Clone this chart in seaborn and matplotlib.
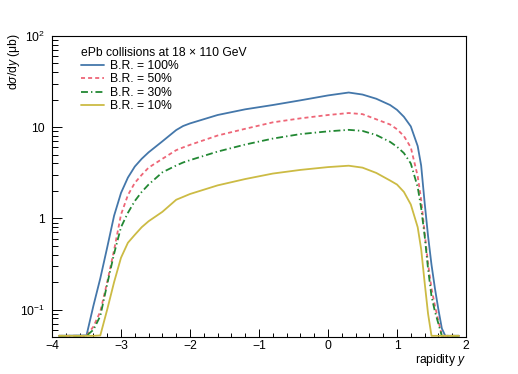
import numpy as np
import pandas as pd
import seaborn as sns
import matplotlib.pyplot as plt

# rapidity grid and dsigma/dy (mub), 0 = outside kinematic range
rapidity = [-3.9, -3.5, -3.4, -3.3, -3.2, -3.1, -3.0, -2.9, -2.8, -2.7, -2.6, -2.4, -2.2, -2.1, -2.0,
            -1.6, -1.2, -0.8, -0.4, 0.0, 0.3, 0.5, 0.7, 0.9, 1.0, 1.1, 1.2, 1.3, 1.35, 1.4,
            1.45, 1.5, 1.55, 1.6, 1.65, 1.7, 1.9]
br100 = [0, 0.052, 0.11, 0.22, 0.48, 1.07, 1.9, 2.8, 3.7, 4.5, 5.3, 7.0, 9.3, 10.3, 11.0,
         13.6, 15.7, 17.5, 19.7, 22.3, 24.0, 22.8, 20.5, 17.5, 15.5, 13.0, 10.2, 6.2, 3.8, 1.5,
         0.64, 0.31, 0.17, 0.10, 0.062, 0, 0]
br50 = [0, 0, 0.065, 0.095, 0.20, 0.45, 1.1, 1.8, 2.45, 3.0, 3.6, 4.5, 5.6, 6.0, 6.4,
        8.1, 9.6, 11.3, 12.5, 13.6, 14.3, 13.9, 12.2, 10.7, 9.5, 8.0, 6.0, 2.9, 1.6, 0.7,
        0.32, 0.17, 0.11, 0.075, 0.052, 0, 0]
br30 = [0, 0, 0.06, 0.085, 0.19, 0.41, 0.8, 1.15, 1.55, 1.95, 2.35, 3.2, 3.8, 4.1, 4.35,
        5.4, 6.45, 7.5, 8.4, 9.0, 9.35, 9.1, 8.2, 6.9, 6.1, 5.2, 4.0, 2.2, 1.3, 0.65,
        0.28, 0.14, 0.095, 0.07, 0.05, 0, 0]
br10 = [0, 0, 0, 0.052, 0.10, 0.20, 0.37, 0.54, 0.66, 0.8, 0.93, 1.18, 1.6, 1.72, 1.85,
        2.3, 2.7, 3.1, 3.4, 3.65, 3.78, 3.6, 3.15, 2.6, 2.35, 1.95, 1.42, 0.8, 0.46, 0.2,
        0.09, 0, 0, 0, 0, 0, 0]

labels = ["B.R. = 100%", "B.R. = 50%", "B.R. = 30%", "B.R. = 10%"]
colors = ["#4477AA", "#EE6677", "#228833", "#CCBB44"]
styles = ["-", (0, (2.9, 2.2)), (0, (5.0, 2.2, 1.0, 2.2)), "-"]

ytick_vals = [0.1, 1, 10, 100]
ytick_labels = ["$10^{-1}$", "1", "10", "$10^{2}$"]
xtick_vals = [-4, -3, -2, -1, 0, 1, 2]

ymin, ymax = 0.05, 100
fs = 8.7

sns.set_style("ticks")
plt.rcParams['font.family'] = ['Liberation Sans', 'DejaVu Sans']
plt.rcParams['mathtext.fontset'] = 'custom'
plt.rcParams['mathtext.rm'] = 'Liberation Sans'
plt.rcParams['mathtext.it'] = 'Liberation Sans:italic'
plt.rcParams['lines.scale_dashes'] = False
for k in ['text.color', 'axes.labelcolor', 'xtick.color', 'ytick.color']:
    plt.rcParams[k] = 'black'

fig = plt.figure(figsize=(5.18, 3.74), dpi=100)
ax = fig.add_axes([52 / 518, 1 - 337 / 374, 414 / 518, 301 / 374])

for vals, lab, col, ls in zip([br100, br50, br30, br10], labels, colors, styles):
    # ROOT draws points below the frame minimum on the bottom edge
    shown = np.clip(np.array(vals, dtype=float), ymin * 1.03, None)
    sns.lineplot(x=rapidity, y=shown, ax=ax, color=col, linestyle=ls, lw=1.3, label=lab)

ax.set_yscale('log')
ax.set_xlim(-4, 2)
ax.set_ylim(ymin, ymax)
ax.set_yticks(ytick_vals, labels=ytick_labels)
ax.set_xticks(xtick_vals)
ax.xaxis.set_minor_locator(plt.MultipleLocator(0.2))
ax.yaxis.set_minor_locator(plt.LogLocator(base=10, subs=np.arange(2, 10)))
ax.yaxis.set_minor_formatter(plt.NullFormatter())

ax.tick_params(axis='x', which='major', direction='in', length=6, width=0.7, labelsize=fs, pad=2.5)
ax.tick_params(axis='x', which='minor', direction='in', length=3, width=0.7)
ax.tick_params(axis='y', which='major', direction='in', length=7.5, width=0.7, labelsize=fs, pad=5)
ax.tick_params(axis='y', which='minor', direction='in', length=4, width=0.7)
for s in ax.spines.values():
    s.set_linewidth(0.8)
    s.set_color('black')

ax.set_xlabel("rapidity $\\it{y}$", fontsize=fs, loc='right')
ax.xaxis.set_label_coords(1.0, -0.05)
ax.set_ylabel("d$\\sigma$/d$\\it{y}$ (μb)", fontsize=fs, loc='top')
ax.yaxis.set_label_coords(-0.072, 1.01)

leg = ax.legend(title="ePb collisions at 18 × 110 GeV", loc='upper left',
                bbox_to_anchor=(0.07, 0.965), frameon=False, fontsize=fs,
                title_fontsize=fs, alignment='left', borderpad=0, borderaxespad=0,
                handlelength=1.9, handletextpad=0.5, labelspacing=0.12)

fig.savefig("out.png", dpi=100)
